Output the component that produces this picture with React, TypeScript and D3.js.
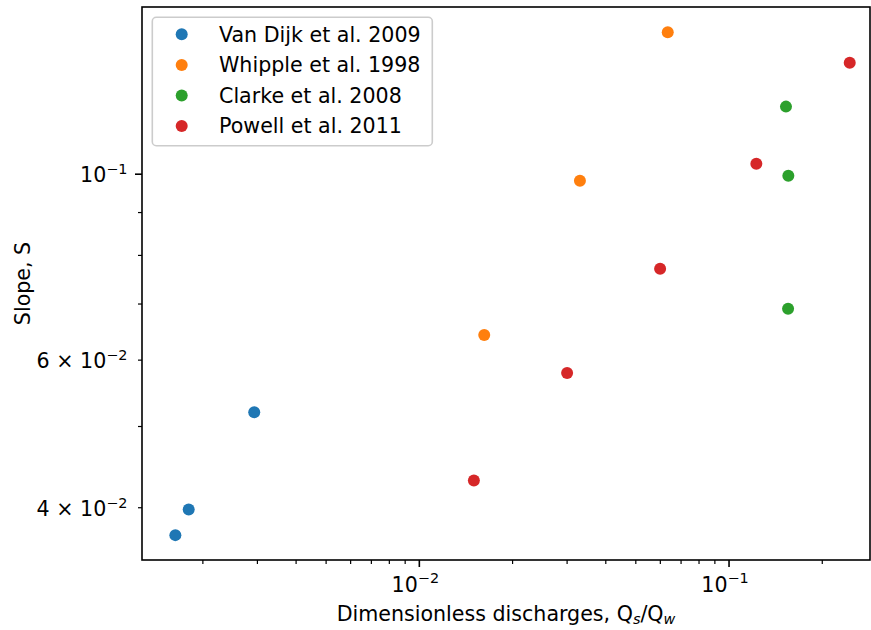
import React from 'react';
import * as d3 from 'd3';

const seriesNames = ['Van Dijk et al. 2009', 'Whipple et al. 1998', 'Clarke et al. 2008', 'Powell et al. 2011'];
const seriesColors = ['#1f77b4', '#ff7f0e', '#2ca02c', '#d62728'];

const vanDijkX = [0.00163, 0.0018, 0.00293];
const vanDijkY = [0.0371, 0.0398, 0.052];
const whippleX = [0.0634, 0.033, 0.0162];
const whippleY = [0.1477, 0.0982, 0.0643];
const clarkeX = [0.1527, 0.1554, 0.1551];
const clarkeY = [0.1204, 0.0996, 0.0691];
const powellX = [0.2453, 0.1225, 0.0599, 0.03, 0.015];
const powellY = [0.1358, 0.1029, 0.0771, 0.0579, 0.0431];

const xDomain = [0.001272, 0.2852];
const yDomain = [0.03465, 0.1583];

const xMajorTicks = [0.01, 0.1];
const xMajorExponents = ['−2', '−1'];
const xMinorTicks = [0.002, 0.003, 0.004, 0.005, 0.006, 0.007, 0.008, 0.009, 0.02, 0.03, 0.04, 0.05, 0.06, 0.07, 0.08, 0.09, 0.2];
const yMajorTicks = [0.1];
const yMinorTicks = [0.04, 0.05, 0.06, 0.07, 0.08, 0.09];
const yLabelTicks = [0.1, 0.06, 0.04];
const yLabelMantissa = ['', '6 × ', '4 × '];
const yLabelExponents = ['−1', '−2', '−2'];

const W = 871, H = 630;
const L = 142, R = 870, T = 7, B = 560;
const FONT = 'DejaVu Sans, sans-serif';
const FS = 20.6;
const FS_SUP = 14.4;

export default function App() {
  const x = d3.scaleLog().domain(xDomain).range([L, R]);
  const y = d3.scaleLog().domain(yDomain).range([B, T]);
  const series = [
    { xs: vanDijkX, ys: vanDijkY },
    { xs: whippleX, ys: whippleY },
    { xs: clarkeX, ys: clarkeY },
    { xs: powellX, ys: powellY },
  ];
  const legendRowY = (i: number) => 34.3 + i * 30.6;
  return (
    <svg width={W} height={H} style={{ position: 'absolute', left: 0, top: 0, background: '#fff' }} fontFamily={FONT}>
      <rect x={0} y={0} width={W} height={H} fill="#fff" />
      {series.map((s, si) =>
        s.xs.map((xv, i) => (
          <circle key={`${si}-${i}`} cx={x(xv)} cy={y(s.ys[i])} r={6} fill={seriesColors[si]} />
        ))
      )}
      {/* spines */}
      <rect x={L} y={T} width={R - L} height={B - T} fill="none" stroke="#000" strokeWidth={1.6} />
      {/* x ticks */}
      {xMajorTicks.map((t, i) => (
        <g key={`xm${i}`}>
          <line x1={x(t)} x2={x(t)} y1={B} y2={B + 7} stroke="#000" strokeWidth={1.6} />
          <text x={x(t) - 4} y={591.5} fontSize={FS} textAnchor="middle" fill="#000">
            10<tspan fontSize={FS_SUP} dy={-8.4}>{xMajorExponents[i]}</tspan>
          </text>
        </g>
      ))}
      {xMinorTicks.map((t, i) => (
        <line key={`xn${i}`} x1={x(t)} x2={x(t)} y1={B} y2={B + 4} stroke="#000" strokeWidth={1.2} />
      ))}
      {/* y ticks */}
      {yMajorTicks.map((t, i) => (
        <line key={`ym${i}`} x1={L - 7} x2={L} y1={y(t)} y2={y(t)} stroke="#000" strokeWidth={1.6} />
      ))}
      {yMinorTicks.map((t, i) => (
        <line key={`yn${i}`} x1={L - 4} x2={L} y1={y(t)} y2={y(t)} stroke="#000" strokeWidth={1.2} />
      ))}
      {yLabelTicks.map((t, i) => (
        <text key={`yl${i}`} x={127.5} y={y(t) + 8.3} fontSize={FS} textAnchor="end" fill="#000">
          {yLabelMantissa[i]}10<tspan fontSize={FS_SUP} dy={-8.4}>{yLabelExponents[i]}</tspan>
        </text>
      ))}
      {/* axis labels */}
      <text x={(L + R) / 2} y={621} fontSize={FS} textAnchor="middle" fill="#000">
        Dimensionless discharges, Q<tspan fontSize={FS_SUP} fontStyle="italic" dy={3}>s</tspan>
        <tspan dy={-3}>/Q</tspan><tspan fontSize={FS_SUP} fontStyle="italic" dy={3}>w</tspan>
      </text>
      <text transform={`translate(30, ${(T + B) / 2}) rotate(-90)`} fontSize={FS} textAnchor="middle" fill="#000">
        Slope, S
      </text>
      {/* legend */}
      <rect x={152.3} y={17.3} width={280} height={128.4} rx={4} ry={4} fill="#fff" fillOpacity={0.8} stroke="#cccccc" strokeWidth={1.6} />
      {seriesNames.map((n, i) => (
        <g key={`lg${i}`}>
          <circle cx={181.7} cy={legendRowY(i)} r={6} fill={seriesColors[i]} />
          <text x={219} y={legendRowY(i) + 7.3} fontSize={FS} fill="#000">{n}</text>
        </g>
      ))}
    </svg>
  );
}
